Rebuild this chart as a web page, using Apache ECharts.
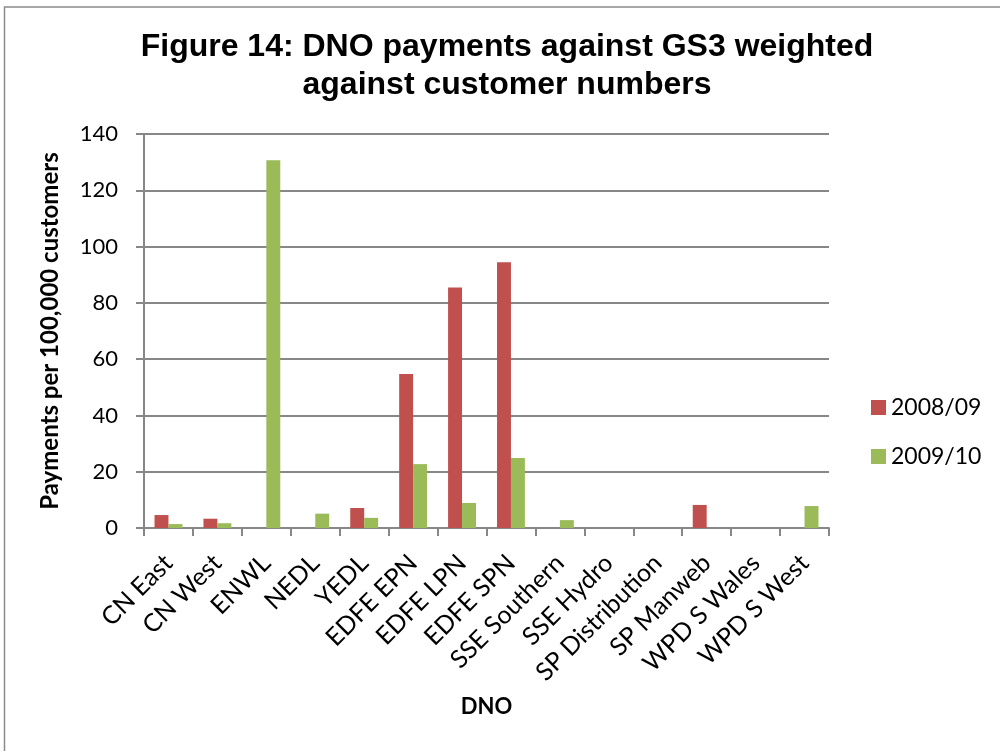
<!DOCTYPE html>
<html>
<head>
<meta charset="utf-8">
<script src="https://cdn.jsdelivr.net/npm/echarts@6/dist/echarts.min.js"></script>
<style>
html,body{margin:0;padding:0;background:#fff;}
#chart{width:1000px;height:751px;}
</style>
</head>
<body>
<div id="chart"></div>
<script>
const categories = ['CN East','CN West','ENWL','NEDL','YEDL','EDFE EPN','EDFE LPN','EDFE SPN','SSE Southern','SSE Hydro','SP Distribution','SP Manweb','WPD S Wales','WPD S West'];
const series2008 = [4.6, 3.3, 0, 0, 7.1, 54.7, 85.5, 94.4, 0, 0, 0, 8.2, 0, 0];
const series2009 = [1.4, 1.7, 130.7, 5.1, 3.6, 22.7, 8.9, 24.9, 2.8, 0, 0, 0, 0, 7.8];
const seriesNames = ['2008/09', '2009/10'];
const titleLines = ['Figure 14: DNO payments against GS3 weighted', 'against customer numbers'];

const chart = echarts.init(document.getElementById('chart'), null, {renderer: 'canvas'});
const labelFont = 'Lato, "Open Sans", "Liberation Sans", sans-serif';
const titleFont = '"Liberation Sans", Arial, sans-serif';

chart.setOption({
  animation: false,
  backgroundColor: '#ffffff',
  color: ['#C0504D', '#9BBB59'],
  graphic: [
    {type: 'rect', shape: {x: 4.5, y: 7, width: 1100, height: 1000}, style: {fill: 'none', stroke: '#8c8c8c', lineWidth: 1.5}, silent: true},
    {type: 'text', x: 507, y: 47, style: {text: titleLines[0], font: 'bold 32px ' + titleFont, fill: '#000', textAlign: 'center', textVerticalAlign: 'middle'}},
    {type: 'text', x: 507, y: 85, style: {text: titleLines[1], font: 'bold 32px ' + titleFont, fill: '#000', textAlign: 'center', textVerticalAlign: 'middle'}}
  ],
  legend: {
    orient: 'vertical',
    left: 871,
    top: 396,
    padding: 0,
    itemWidth: 15,
    itemHeight: 15,
    itemGap: 26,
    icon: 'rect',
    data: seriesNames,
    textStyle: {fontSize: 23, fontFamily: labelFont, color: '#000'}
  },
  grid: {left: 144, right: 171, top: 134, bottom: 223, containLabel: false},
  xAxis: {
    type: 'category',
    data: categories,
    name: 'DNO',
    nameLocation: 'middle',
    nameGap: 168,
    nameTextStyle: {fontSize: 22, fontWeight: 'bold', fontFamily: labelFont, color: '#000'},
    axisLine: {lineStyle: {color: '#878787', width: 2}},
    axisTick: {show: true, interval: 0, length: 8, lineStyle: {color: '#878787', width: 2}},
    axisLabel: {interval: 0, rotate: 45, fontSize: 25, fontFamily: labelFont, color: '#000', margin: 31}
  },
  yAxis: {
    type: 'value',
    min: 0,
    max: 140,
    interval: 20,
    name: 'Payments per 100,000 customers',
    nameLocation: 'middle',
    nameGap: 82,
    nameTextStyle: {fontSize: 24, fontWeight: 'bold', fontFamily: labelFont, color: '#000'},
    axisLine: {show: true, lineStyle: {color: '#878787', width: 2}},
    axisTick: {show: true, length: 8, lineStyle: {color: '#878787', width: 2}},
    axisLabel: {fontSize: 22, fontFamily: labelFont, color: '#000', margin: 26},
    splitLine: {lineStyle: {color: '#878787', width: 2}}
  },
  series: [
    {name: seriesNames[0], type: 'bar', data: series2008, barGap: '0%', barCategoryGap: '43%'},
    {name: seriesNames[1], type: 'bar', data: series2009, barGap: '0%', barCategoryGap: '43%'}
  ]
});
</script>
</body>
</html>
